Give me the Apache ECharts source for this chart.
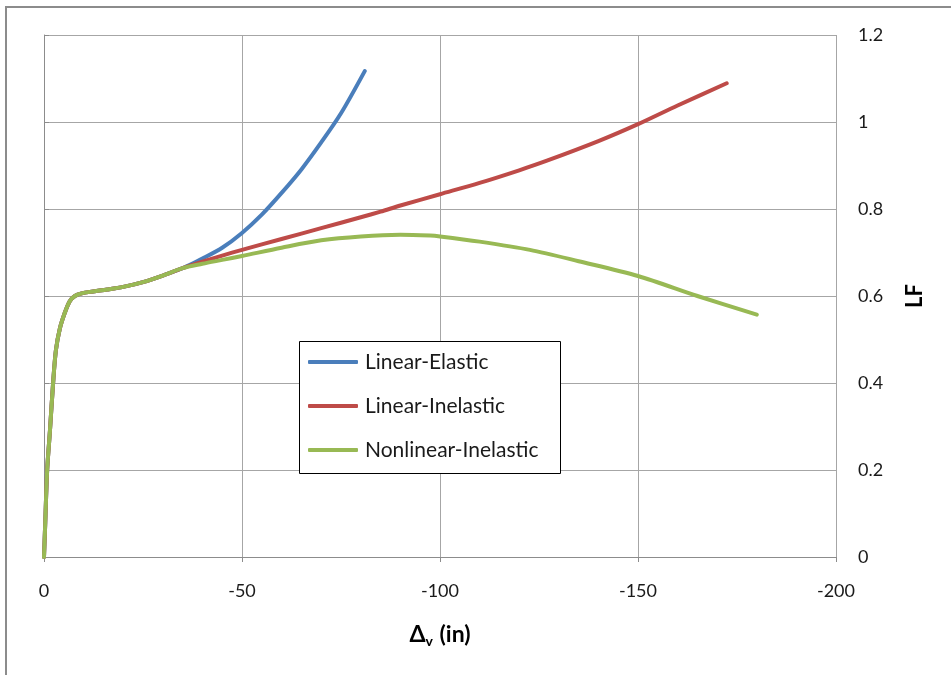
<!DOCTYPE html>
<html>
<head>
<meta charset="utf-8">
<script src="https://cdn.jsdelivr.net/npm/echarts@6/dist/echarts.min.js"></script>
<style>html,body{margin:0;padding:0;background:#fff;}#c{width:951px;height:675px;}</style>
</head>
<body>
<div id="c"></div>
<script>
// Shared initial branch (all three analyses coincide)
var commonX = [0, -0.3, -0.8, -1.5, -2.3, -3.0, -4.0, -5.2, -6.5, -7.8, -9.5, -12, -16, -20, -25, -30, -35];
var commonY = [0, 0.075, 0.2, 0.29, 0.4, 0.475, 0.525, 0.56, 0.588, 0.6, 0.606, 0.61, 0.615, 0.621, 0.632, 0.647, 0.664];

var elasticX = [-36, -40, -45, -50, -55, -60, -65, -70, -75, -81];
var elasticY = [0.668, 0.686, 0.711, 0.745, 0.787, 0.837, 0.891, 0.953, 1.02, 1.117];

var linInelX = [-40, -45, -50, -60, -70, -80, -85, -90, -100, -110, -120, -127, -140, -150, -160, -172.4];
var linInelY = [0.679, 0.693, 0.706, 0.731, 0.756, 0.781, 0.794, 0.808, 0.834, 0.86, 0.889, 0.911, 0.956, 0.995, 1.038, 1.089];

var nonlinX = [-40, -45, -50, -60, -70, -80, -90, -97.5, -100, -110, -122.7, -135, -150, -165, -180];
var nonlinY = [0.674, 0.683, 0.692, 0.711, 0.728, 0.737, 0.741, 0.739, 0.737, 0.725, 0.706, 0.68, 0.646, 0.6, 0.557];

var seriesNames = ['Linear-Elastic', 'Linear-Inelastic', 'Nonlinear-Inelastic'];
var seriesColors = ['#4A7EBB', '#BE4B48', '#98B954'];

var xTicks = {min: -200, max: 0, interval: 50};
var yTicks = {min: 0, max: 1.2, interval: 0.2};

function pairs(xa, ya) {
  var out = [];
  for (var i = 0; i < xa.length; i++) out.push([xa[i], ya[i]]);
  return out;
}
function withCommon(xa, ya) {
  return pairs(commonX, commonY).concat(pairs(xa, ya));
}

var font = 'Lato, "Open Sans", sans-serif';
var chart = echarts.init(document.getElementById('c'), null, {renderer: 'canvas'});
var branches = [[elasticX, elasticY], [linInelX, linInelY], [nonlinX, nonlinY]];

chart.setOption({
  animation: false,
  backgroundColor: '#fff',
  grid: {left: 44, right: 115, top: 35, bottom: 118, containLabel: false},
  graphic: [
    {type: 'rect', shape: {x: 6, y: 7, width: 1000, height: 700}, style: {fill: 'none', stroke: '#8c8c8c', lineWidth: 2}, silent: true, z: -1},
    {type: 'rect', shape: {x: 299.5, y: 341.5, width: 261, height: 132}, style: {fill: '#fff', stroke: '#000', lineWidth: 1}, z: 50}
  ],
  legend: {
    orient: 'vertical',
    left: 308,
    top: 350,
    z: 60,
    icon: 'roundRect',
    itemWidth: 50,
    itemHeight: 4,
    itemGap: 20,
    padding: 0,
    textStyle: {fontFamily: font, fontSize: 21, color: '#1a1a1a', lineHeight: 24, padding: [0, 0, 0, 2]},
    data: seriesNames
  },
  xAxis: {
    type: 'value',
    inverse: true,
    min: xTicks.min, max: xTicks.max, interval: xTicks.interval,
    axisLine: {show: true, onZero: false, lineStyle: {color: '#8c8c8c', width: 1}},
    axisTick: {show: true, length: 5, lineStyle: {color: '#8c8c8c'}},
    splitLine: {show: true, lineStyle: {color: '#a6a6a6', width: 1}},
    axisLabel: {fontFamily: font, fontSize: 18, color: '#1a1a1a', margin: 25},
    name: '{a|\u0394}{b|v}{a| (in)}',
    nameLocation: 'middle',
    nameGap: 65,
    nameTextStyle: {
      rich: {
        a: {fontFamily: font, fontSize: 23, fontWeight: 'bold', color: '#000', lineHeight: 26},
        b: {fontFamily: font, fontSize: 14, fontWeight: 'bold', color: '#000', lineHeight: 26, verticalAlign: 'bottom', padding: [13, 1, 0, 0]}
      }
    }
  },
  yAxis: {
    type: 'value',
    position: 'right',
    min: yTicks.min, max: yTicks.max, interval: yTicks.interval,
    axisLine: {show: true, lineStyle: {color: '#8c8c8c', width: 1}},
    axisTick: {show: true, length: 5, lineStyle: {color: '#8c8c8c'}},
    splitLine: {show: true, lineStyle: {color: '#a6a6a6', width: 1}},
    axisLabel: {fontFamily: font, fontSize: 18, color: '#1a1a1a', margin: 22, formatter: function (v) { return String(Math.round(v * 10) / 10); }},
    name: 'LF',
    nameLocation: 'middle',
    nameRotate: 90,
    nameGap: 68,
    nameTextStyle: {fontFamily: font, fontSize: 22, fontWeight: 'bold', color: '#000'}
  },
  series: seriesNames.map(function (n, i) {
    return {
      name: n,
      type: 'line',
      data: withCommon(branches[i][0], branches[i][1]),
      showSymbol: false,
      symbol: 'none',
      smooth: 0.3,
      color: seriesColors[i],
      lineStyle: {color: seriesColors[i], width: 4, cap: 'round', join: 'round'},
      z: 2 + i
    };
  })
});
</script>
</body>
</html>
